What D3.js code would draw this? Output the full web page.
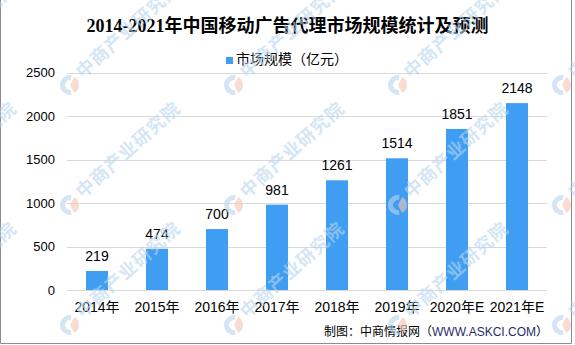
<!DOCTYPE html>
<html>
<head>
<meta charset="utf-8">
<script src="https://cdn.jsdelivr.net/npm/d3@7"></script>
<style>
  html, body { margin: 0; padding: 0; background: #fff; }
  svg { display: block; }
</style>
</head>
<body>
<svg id="chart" width="575" height="345"></svg>
<script>
// Mobile advertising agency market size, 2014-2021 (forecast for 2020E, 2021E)
const categories = ["2014年", "2015年", "2016年", "2017年", "2018年", "2019年", "2020年E", "2021年E"];
const marketSize = [219, 474, 700, 981, 1261, 1514, 1851, 2148];
const yTicks = [0, 500, 1000, 1500, 2000, 2500];

const title = "2014-2021年中国移动广告代理市场规模统计及预测";
const seriesName = "市场规模（亿元）";
const sourcePrefix = "制图：中商情报网（";
const sourceSite = "WWW.ASKCI.COM";
const sourceSuffix = "）";
const watermarkText = "中商产业研究院";

const svg = d3.select("#chart");
const W = 575, H = 345;
const margin = { left: 67, right: 28, top: 72.5, bottom: 55 };

const numFont = "'Liberation Sans', 'Noto Sans CJK SC', sans-serif";

svg.append("rect").attr("width", W).attr("height", H).attr("fill", "#fff");

const x = d3.scaleBand()
  .domain(categories)
  .range([margin.left, W - margin.right])
  .paddingInner(0.633)
  .paddingOuter(0.3165);

const y = d3.scaleLinear()
  .domain([0, 2500])
  .range([H - margin.bottom, margin.top]);

// horizontal grid lines
svg.append("g")
  .selectAll("line")
  .data(yTicks)
  .join("line")
  .attr("x1", margin.left)
  .attr("x2", W - margin.right)
  .attr("y1", d => Math.round(y(d)) + 0.5)
  .attr("y2", d => Math.round(y(d)) + 0.5)
  .attr("stroke", "#d9d9d9")
  .attr("stroke-width", 1);

// y axis labels
const yAxis = d3.axisLeft(y).tickValues(yTicks).tickFormat(d3.format("d")).tickSize(0).tickPadding(12);
const gy = svg.append("g")
  .attr("transform", `translate(${margin.left},0)`)
  .call(yAxis);
gy.select(".domain").remove();
gy.selectAll("text")
  .attr("font-family", numFont)
  .attr("font-size", 13)
  .attr("fill", "#000");

// x axis labels
const xAxis = d3.axisBottom(x).tickSize(0).tickPadding(12);
const gx = svg.append("g")
  .attr("transform", `translate(0,${H - margin.bottom})`)
  .call(xAxis);
gx.select(".domain").remove();
gx.selectAll("text")
  .attr("font-family", numFont)
  .attr("font-size", 14)
  .attr("fill", "#000");

// bars
svg.append("g")
  .selectAll("rect")
  .data(marketSize)
  .join("rect")
  .attr("x", (d, i) => x(categories[i]))
  .attr("width", x.bandwidth())
  .attr("y", d => y(d))
  .attr("height", d => y(0) - y(d))
  .attr("fill", "#3f9ef2");

// value labels
svg.append("g")
  .selectAll("text")
  .data(marketSize)
  .join("text")
  .attr("x", (d, i) => x(categories[i]) + x.bandwidth() / 2)
  .attr("y", d => y(d) - 10)
  .attr("text-anchor", "middle")
  .attr("font-family", numFont)
  .attr("font-size", 14)
  .attr("fill", "#000")
  .text(d => d);

// title
svg.append("text")
  .attr("x", 287.5)
  .attr("y", 32)
  .attr("text-anchor", "middle")
  .attr("font-family", "'Liberation Serif', 'Noto Sans CJK SC', serif")
  .attr("font-weight", "bold")
  .attr("font-size", 18)
  .attr("fill", "#000")
  .text(title);

// legend
const legend = svg.append("g").attr("transform", "translate(226,57)");
legend.append("rect").attr("width", 7).attr("height", 7).attr("fill", "#3f9ef2");
legend.append("text")
  .attr("x", 10)
  .attr("y", 6.5)
  .attr("font-family", "'Noto Sans CJK SC', sans-serif")
  .attr("font-size", 14)
  .attr("fill", "#000")
  .text(seriesName);

// source note
const src = svg.append("text")
  .attr("x", 548)
  .attr("y", 336)
  .attr("text-anchor", "end")
  .attr("font-family", "'Noto Sans CJK SC', sans-serif")
  .attr("font-size", 12)
  .attr("fill", "#000");
src.append("tspan").text(sourcePrefix);
src.append("tspan").attr("fill", "#1f2d6e").attr("font-family", "'Liberation Sans', sans-serif").text(sourceSite);
src.append("tspan").text(sourceSuffix);

// frame
svg.append("path")
  .attr("d", "M0.5,0 V343.5 H571.5 V0")
  .attr("fill", "none")
  .attr("stroke", "#8c8c8c")
  .attr("stroke-width", 1);

// tiled watermark
const wmCols = [-94, 70, 234, 398, 562];
const wmRows = [-35, 85, 205, 325];
const wm = svg.append("g").attr("pointer-events", "none");
wmRows.forEach(ry => wmCols.forEach(cx => {
  const g = wm.append("g").attr("transform", `translate(${cx},${ry})`).attr("opacity", 0.6);
  const arc = d3.arc();
  g.append("path")
    .attr("d", arc({ innerRadius: 5, outerRadius: 10, startAngle: Math.PI * 0.95, endAngle: Math.PI * 2.05 }))
    .attr("fill", "#b9d6ef");
  g.append("path")
    .attr("d", arc({ innerRadius: 0, outerRadius: 9, startAngle: Math.PI * 0.15, endAngle: Math.PI * 0.85 }))
    .attr("fill", "#f6c6b3");
  g.append("text")
    .attr("transform", "translate(13,-6) rotate(-42)")
    .attr("font-family", "'Noto Sans CJK SC', sans-serif")
    .attr("font-weight", "bold")
    .attr("font-size", 18)
    .attr("letter-spacing", 1)
    .attr("fill", "#b9d6ef")
    .text(watermarkText);
}));
</script>
</body>
</html>
